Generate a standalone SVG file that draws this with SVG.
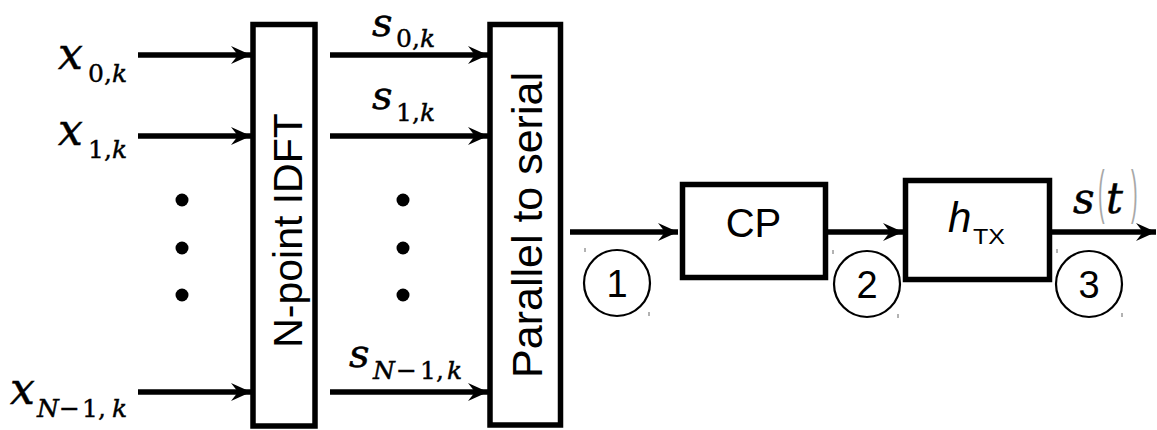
<svg xmlns="http://www.w3.org/2000/svg" width="1157" height="430" viewBox="0 0 1157 430">
<style>
.box{fill:#fff;stroke:#000;stroke-width:5.5}
.conn{stroke:#000;stroke-width:5.5;fill:none;marker-end:url(#ah)}
.mi{font-family:"DejaVu Serif",serif;font-style:italic;fill:#000;stroke:#000;stroke-width:0.5}
.up{font-family:"DejaVu Serif",serif;font-style:normal;fill:#000;stroke:#000;stroke-width:0.4}
.sans{font-family:"Liberation Sans",Arial,sans-serif;fill:#000}
.par{font-family:"Liberation Sans",Arial,sans-serif;fill:#a8a8a8}
.ring{fill:none;stroke:#000;stroke-width:2.2}
.tick{stroke:#666;stroke-width:1}
.dot{fill:#000}
</style>
<defs>
<marker id="ah" viewBox="0 0 20 18" markerWidth="20" markerHeight="18" refX="20" refY="9" orient="auto" markerUnits="userSpaceOnUse">
<path d="M0,0 L20,9 L0,18 L7,9 Z" fill="#000"/>
</marker>
</defs>

<g id="connectors">
<line class="conn" x1="138" y1="55" x2="251" y2="55"/>
<line class="conn" x1="138" y1="136" x2="251" y2="136"/>
<line class="conn" x1="138" y1="392" x2="251" y2="392"/>
<line class="conn" x1="330" y1="55" x2="488" y2="55"/>
<line class="conn" x1="330" y1="136" x2="488" y2="136"/>
<line class="conn" x1="330" y1="392" x2="488" y2="392"/>
<line class="conn" x1="570" y1="232" x2="678" y2="232"/>
<line class="conn" x1="828" y1="232" x2="903" y2="232"/>
<line class="conn" x1="1052" y1="232" x2="1156" y2="232"/>
</g>

<g id="labels-in">
<text class="mi" x="58" y="69" font-size="44">x</text>
<text class="up" x="88" y="82" font-size="25">0,</text>
<text class="mi" x="112" y="82" font-size="25">k</text>
<text class="mi" x="58" y="145" font-size="44">x</text>
<text class="up" x="88" y="158" font-size="25">1,</text>
<text class="mi" x="112" y="158" font-size="25">k</text>
<text class="mi" x="10" y="404" font-size="44">x</text>
<text class="mi" x="37" y="417" font-size="25">N</text>
<text class="up" x="59" y="417" font-size="25">−</text>
<text class="up" x="82" y="417" font-size="25">1,</text>
<text class="mi" x="112" y="417" font-size="25">k</text>
</g>

<g id="dots-in">
<circle class="dot" cx="182" cy="200" r="6.5"/>
<circle class="dot" cx="182" cy="248" r="6.5"/>
<circle class="dot" cx="182" cy="295" r="6.5"/>
</g>

<g id="idft">
<rect class="box" x="253" y="24.5" width="62" height="401.5"/>
<text class="sans" font-size="41" text-anchor="middle" transform="translate(302,230.5) rotate(-90)">N-point IDFT</text>
</g>

<g id="labels-mid">
<text class="mi" x="372" y="36" font-size="40">s</text>
<text class="up" x="396" y="47" font-size="25">0,</text>
<text class="mi" x="420" y="47" font-size="25">k</text>
<text class="mi" x="372" y="109" font-size="40">s</text>
<text class="up" x="396" y="121" font-size="25">1,</text>
<text class="mi" x="420" y="121" font-size="25">k</text>
<text class="mi" x="349" y="367" font-size="40">s</text>
<text class="mi" x="373" y="379" font-size="25">N</text>
<text class="up" x="396" y="379" font-size="25">−</text>
<text class="up" x="420" y="379" font-size="25">1,</text>
<text class="mi" x="447" y="379" font-size="25">k</text>
</g>

<g id="dots-mid">
<circle class="dot" cx="403" cy="200" r="6.5"/>
<circle class="dot" cx="403" cy="248" r="6.5"/>
<circle class="dot" cx="403" cy="295" r="6.5"/>
</g>

<g id="p2s">
<rect class="box" x="490" y="24.5" width="70.5" height="400.5"/>
<text class="sans" font-size="43" text-anchor="middle" transform="translate(542,225) rotate(-90)">Parallel to serial</text>
</g>

<g id="cp">
<rect class="box" x="682.5" y="184.5" width="143" height="93"/>
<text class="sans" font-size="40" text-anchor="middle" x="753.5" y="237">CP</text>
</g>

<g id="htx">
<rect class="box" x="905.5" y="180.5" width="144" height="99"/>
<text class="sans" font-size="42" font-style="italic" x="948" y="232">h</text>
<text class="sans" font-size="22" x="973" y="244" textLength="32" lengthAdjust="spacingAndGlyphs">TX</text>
</g>

<g id="st">
<text class="mi" x="1073" y="213" font-size="42">s</text>
<text class="par" font-size="60" transform="translate(1098,212) scale(0.33,1)">(</text>
<text class="mi" x="1106" y="213" font-size="42">t</text>
<text class="par" font-size="60" transform="translate(1131,212) scale(0.33,1)">)</text>
</g>

<g id="m1">
<circle class="ring" cx="617" cy="283" r="33"/>
<text class="sans" font-size="38" text-anchor="middle" x="617" y="297">1</text>
<line class="tick" x1="585" y1="248" x2="585" y2="252"/>
<line class="tick" x1="649" y1="312" x2="649" y2="316"/>
</g>
<g id="m2">
<circle class="ring" cx="867" cy="284" r="33"/>
<text class="sans" font-size="38" text-anchor="middle" x="867" y="298">2</text>
<line class="tick" x1="833" y1="250" x2="833" y2="254"/>
<line class="tick" x1="898" y1="314" x2="898" y2="318"/>
</g>
<g id="m3">
<circle class="ring" cx="1089" cy="284" r="33"/>
<text class="sans" font-size="38" text-anchor="middle" x="1089" y="298">3</text>
<line class="tick" x1="1057" y1="249" x2="1057" y2="253"/>
<line class="tick" x1="1122" y1="313" x2="1122" y2="317"/>
</g>
</svg>
